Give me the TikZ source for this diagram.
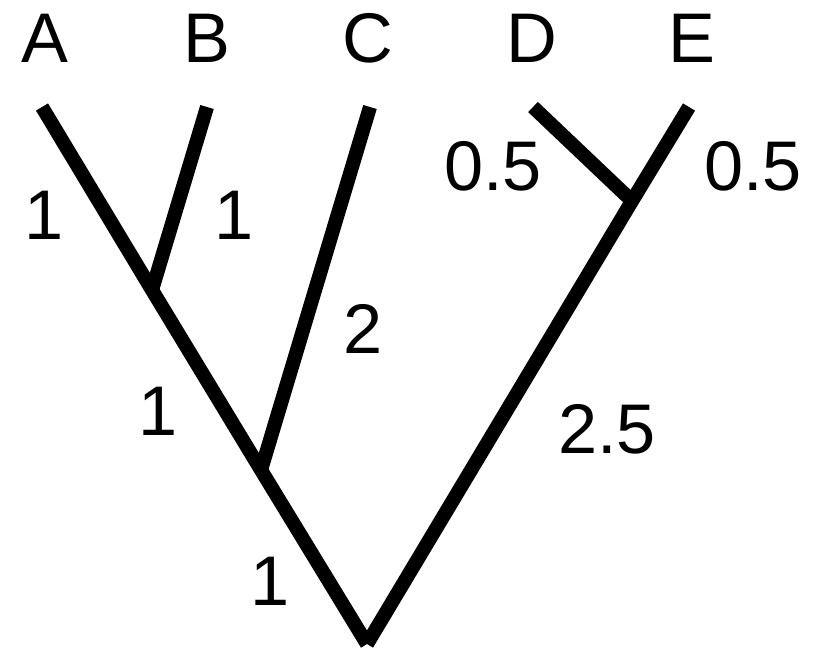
\documentclass[tikz,border=0pt]{standalone}
\usepackage{fontspec}
\setmainfont{Liberation Sans}
\usepackage{tikz}

\tikzset{
  branch/.style={line width=8pt, line cap=butt, line join=miter},
  lbl/.style={anchor=base, inner sep=0pt, font=\fontsize{40}{48}\selectfont}
}

\begin{document}
\begin{tikzpicture}[x=0.02cm, y=-0.02cm]
\useasboundingbox (0,0) rectangle (817,654);
% leaves and inner points
\coordinate (a) at (42,107);
\coordinate (b) at (207,107);
\coordinate (c) at (370,107);
\coordinate (d) at (533,107);
\coordinate (e) at (689,107);
\coordinate (ab) at (152,290);
\coordinate (abc) at (261,470);
\coordinate (de) at (632,201);
\coordinate (root) at (367,644);
% branches
\draw[branch] (a) -- (ab) -- (abc) -- (root);
\draw[branch] (b) -- (ab);
\draw[branch] (c) -- (abc);
\draw[branch] (e) -- (de) -- (root);
\draw[branch] (d) -- (de);
% taxa
\node[lbl] (ta) at (45,62) {A};
\node[lbl] (tb) at (207,62) {B};
\node[lbl] (tc) at (368,62) {C};
\node[lbl] (td) at (532,62) {D};
\node[lbl] (te) at (692,62) {E};
% lengths
\node[lbl] (la) at (44,239) {1};
\node[lbl] (lb) at (234,239) {1};
\node[lbl] (lc) at (363,353) {2};
\node[lbl] (lab) at (158,435) {1};
\node[lbl] (labc) at (270,605) {1};
\node[lbl] (ld) at (493,190) {0.5};
\node[lbl] (le) at (753,190) {0.5};
\node[lbl] (lde) at (607,453) {2.5};
\end{tikzpicture}
\end{document}
